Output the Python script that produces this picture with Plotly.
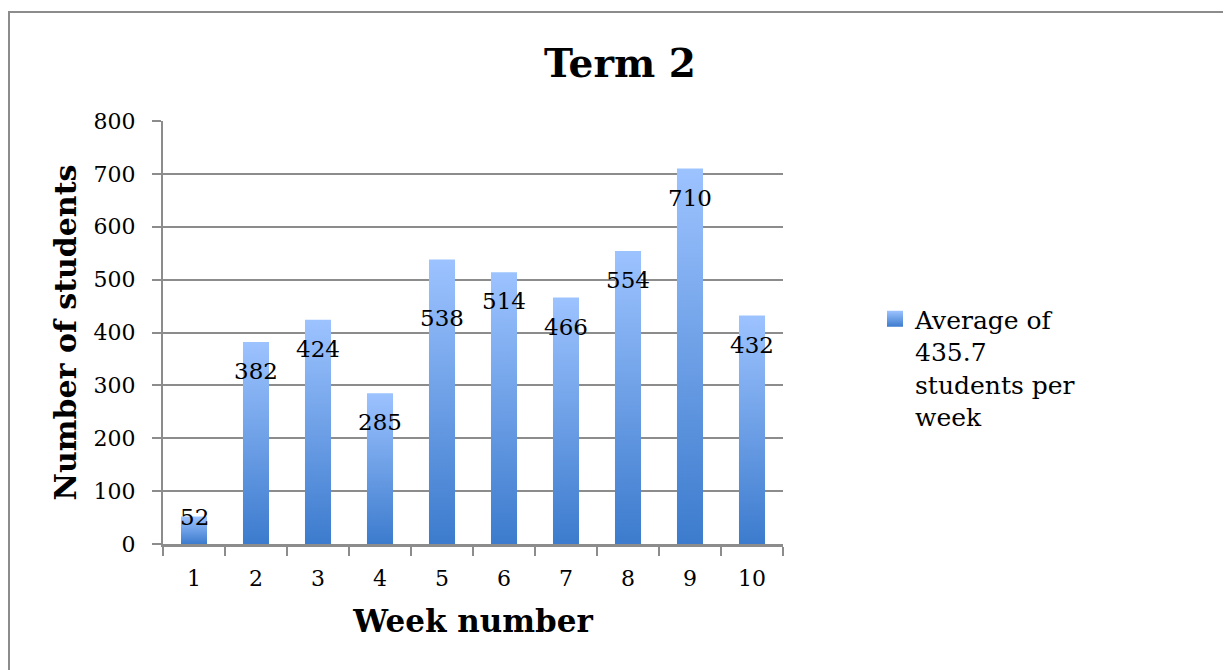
import plotly.graph_objects as go

weeks = [1, 2, 3, 4, 5, 6, 7, 8, 9, 10]
students = [52, 382, 424, 285, 538, 514, 466, 554, 710, 432]
week_labels = [str(w) for w in weeks]
y_ticks = [0, 100, 200, 300, 400, 500, 600, 700, 800]
legend_name = "Average of<br>435.7<br>students per<br>week"
title_text = "Term 2"
x_title = "Week number"
y_title = "Number of students"

FONT = "DejaVu Serif"
LIGHT = "#9DC3FF"
DARK = "#3C7BCD"
GRID = "#8C8C8C"
HALF_W = 0.21

# page is drawn with an 8px body margin; convert page pixel targets to figure pixels
OFF = 8
W, H = 1231, 670
PX_L, PX_R, PX_T, PX_B = 163, 783, 121, 544  # plot area in page pixels
L, T = PX_L - OFF, PX_T - OFF
pw, ph = PX_R - PX_L, PX_B - PX_T
R, B = W - L - pw, H - T - ph
PX_PER_UNIT = ph / 800.0
LABEL_DROP = 29          # inside-end label offset (px)
LABEL_NUDGE = {5: 29}    # extra manual drop for week 5 label, as in the original


def px_x(px):
    return (px - PX_L) / pw


def px_y(py):
    return (PX_B - py) / ph


fig = go.Figure()

for w, v in zip(weeks, students):
    fig.add_trace(go.Scatter(
        x=[w - HALF_W, w - HALF_W, w + HALF_W, w + HALF_W, w - HALF_W],
        y=[0, v, v, 0, 0],
        fill="toself",
        mode="none",
        fillgradient=dict(type="vertical", colorscale=[[0, DARK], [1, LIGHT]]),
        showlegend=False,
        hoverinfo="skip",
    ))

# legend entry
fig.add_trace(go.Scatter(
    x=[None], y=[None], mode="markers", name=legend_name,
    marker=dict(symbol="square", size=16, color=LIGHT,
                gradient=dict(type="vertical", color=DARK), line=dict(width=0)),
))

annotations = []
for w, v in zip(weeks, students):
    bar_px = v * PX_PER_UNIT
    shift = -LABEL_DROP if bar_px > 2 * LABEL_DROP else 0
    shift -= LABEL_NUDGE.get(w, 0)
    annotations.append(dict(
        x=w, y=v, xref="x", yref="y", text=str(v), showarrow=False,
        xanchor="center", yanchor="middle", yshift=shift,
        font=dict(family=FONT, size=23, color="#000000"),
    ))

fig.update_layout(
    width=W, height=H,
    margin=dict(l=L, r=R, t=T, b=B),
    paper_bgcolor="white", plot_bgcolor="white",
    font=dict(family=FONT, size=22, color="#000000"),
    title=dict(text="<b>" + title_text + "</b>", x=(620 - OFF) / W, xanchor="center",
               xref="container", y=1 - (63 - OFF) / H, yanchor="middle", yref="container",
               font=dict(family=FONT, size=39, color="#000000")),
    xaxis=dict(
        range=[0.5, 10.5], tickmode="array", tickvals=weeks, ticktext=week_labels,
        ticks="", showgrid=False, zeroline=False,
        showline=True, linecolor=GRID, linewidth=2.5,
        minor=dict(tickmode="array", tickvals=[w - 0.5 for w in weeks] + [weeks[-1] + 0.5],
                   ticks="outside", ticklen=9, tickcolor=GRID, tickwidth=2, showgrid=False),
        ticklabelstandoff=13,
        title=dict(text="<b>" + x_title + "</b>", font=dict(family=FONT, size=31), standoff=21),
        tickfont=dict(family=FONT, size=22),
    ),
    yaxis=dict(
        range=[0, 800], tickmode="array", tickvals=y_ticks,
        ticks="outside", ticklen=9, tickcolor=GRID, tickwidth=2,
        showgrid=True, gridcolor=GRID, gridwidth=2, zeroline=False,
        showline=True, linecolor=GRID, linewidth=2,
        ticklabelstandoff=12,
        title=dict(text="<b>" + y_title + "</b>", font=dict(family=FONT, size=30), standoff=8),
        tickfont=dict(family=FONT, size=22),
    ),
    legend=dict(x=px_x(875), y=px_y(296), xanchor="left", yanchor="top",
                valign="top", font=dict(family=FONT, size=25), bgcolor="rgba(0,0,0,0)",
                itemwidth=30, tracegroupgap=0),
    annotations=annotations,
    shapes=[dict(type="rect", xref="paper", yref="paper",
                 x0=px_x(9), x1=px_x(1260), y0=px_y(700), y1=px_y(12),
                 line=dict(color="#8C8C8C", width=2), fillcolor="rgba(0,0,0,0)", layer="below")],
)

fig.write_html("out.html")
